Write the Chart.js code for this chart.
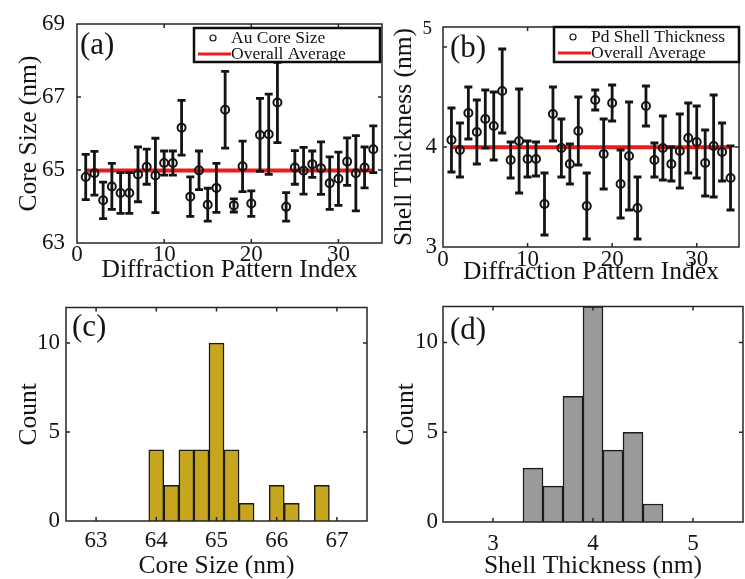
<!DOCTYPE html>
<html>
<head>
<meta charset="utf-8">
<title>Core size and shell thickness</title>
<script src="https://cdn.jsdelivr.net/npm/chart.js@4.4.1/dist/chart.umd.min.js"></script>
<style>
body { margin: 0; background: #fff; }
#fig { position: relative; width: 745px; height: 579px; overflow: hidden; }
#fig canvas { position: absolute; }
</style>
</head>
<body>
<div id="fig">
  <canvas id="cA" width="390" height="290" style="left:0;top:0"></canvas>
  <canvas id="cB" width="373" height="290" style="left:372px;top:0"></canvas>
  <canvas id="cC" width="372" height="289" style="left:0;top:290px"></canvas>
  <canvas id="cD" width="373" height="289" style="left:372px;top:290px"></canvas>
</div>
<script>
// per diffraction pattern fits
var idx = [1,2,3,4,5,6,7,8,9,10,11,12,13,14,15,16,17,18,19,20,21,22,23,24,25,26,27,28,29,30,31,32,33,34];
var coreSize = [64.81,64.91,64.17,64.55,64.37,64.37,64.88,65.09,64.85,65.19,65.19,66.16,64.27,64.99,64.05,64.51,66.65,
                64.03,65.10,64.08,65.96,65.98,66.85,63.99,65.07,64.98,65.16,65.05,64.64,64.76,65.23,64.91,65.07,65.57];
var coreErr  = [0.62,0.60,0.50,0.63,0.56,0.56,0.75,0.48,1.02,0.33,0.33,0.75,0.54,0.53,0.45,0.67,1.05,
                0.18,0.69,0.35,1.00,1.10,1.10,0.39,0.46,0.64,0.36,0.72,0.72,0.73,0.65,1.03,0.56,0.64];
var shellThk = [4.07,3.97,4.34,4.15,4.28,4.21,4.56,3.87,4.06,3.88,3.88,3.43,4.33,3.99,3.83,4.16,3.41,
                4.47,3.93,4.44,3.63,3.91,3.39,4.41,3.87,3.99,3.83,3.96,4.09,4.05,3.84,4.01,3.95,3.69];
var shellErr = [0.32,0.27,0.26,0.32,0.29,0.34,0.42,0.18,0.52,0.18,0.17,0.31,0.27,0.29,0.20,0.34,0.33,
                0.10,0.35,0.18,0.34,0.54,0.31,0.20,0.17,0.32,0.17,0.37,0.35,0.36,0.33,0.51,0.29,0.32];

// histograms (bin centres and counts)
var coreBins   = [64.0,64.25,64.5,64.75,65.0,65.25,65.5,65.75,66.0,66.25,66.5,66.75];
var coreCount  = [4,2,4,4,10,4,1,0,2,1,0,2];
var shellBins  = [3.4,3.6,3.8,4.0,4.2,4.4,4.6];
var shellCount = [3,2,7,12,4,5,1];

// axis ticks
var idxTicks      = [0,10,20,30];
var coreTicks     = [63,65,67,69];
var shellTicks    = [3,4,5];
var countTicks    = [0,5,10];
var coreBinTicks  = [63,64,65,66,67];
var shellBinTicks = [3,4,5];

var SERIF = "'Liberation Serif', 'Times New Roman', serif";
var INK = '#141414';
Chart.defaults.font.family = SERIF;
Chart.defaults.color = INK;
Chart.defaults.animation = false;

function mean(a) {
	var s = 0;
	for (var i = 0; i < a.length; i++) s += a[i];
	return s / a.length;
}
function pts(xs, ys) {
	return xs.map(function (x, i) { return {x: x, y: ys[i]}; });
}
function setTicks(list) {
	return function (scale) { scale.ticks = list.map(function (v) { return {value: v}; }); };
}

// box with inward ticks on all four sides
var framePlugin = {
	id: 'frame',
	afterDraw: function (chart) {
		var ctx = chart.ctx, a = chart.chartArea, xs = chart.scales.x, ys = chart.scales.y;
		ctx.save();
		ctx.strokeStyle = '#262626';
		ctx.lineWidth = 1.5;
		ctx.strokeRect(a.left, a.top, a.right - a.left, a.bottom - a.top);
		ctx.beginPath();
		xs.ticks.forEach(function (t) {
			var p = xs.getPixelForValue(t.value);
			if (p <= a.left + 1 || p >= a.right - 1) return;
			ctx.moveTo(p, a.bottom); ctx.lineTo(p, a.bottom - 4);
			ctx.moveTo(p, a.top); ctx.lineTo(p, a.top + 4);
		});
		ys.ticks.forEach(function (t) {
			var p = ys.getPixelForValue(t.value);
			if (p <= a.top + 1 || p >= a.bottom - 1) return;
			ctx.moveTo(a.left, p); ctx.lineTo(a.left + 4, p);
			ctx.moveTo(a.right, p); ctx.lineTo(a.right - 4, p);
		});
		ctx.stroke();
		ctx.restore();
	}
};

// vertical error bars under the markers of dataset 0
var errPlugin = {
	id: 'errBars',
	beforeDatasetDraw: function (chart, args) {
		if (args.index !== 0) return;
		var ds = chart.data.datasets[0];
		if (!ds.err) return;
		var ctx = chart.ctx, xs = chart.scales.x, ys = chart.scales.y;
		ctx.save();
		ctx.strokeStyle = INK;
		ctx.lineWidth = 2.8;
		ds.data.forEach(function (p, i) {
			var x = xs.getPixelForValue(p.x);
			var lo = ys.getPixelForValue(p.y - ds.err[i]);
			var hi = ys.getPixelForValue(p.y + ds.err[i]);
			ctx.beginPath();
			ctx.moveTo(x, lo); ctx.lineTo(x, hi);
			ctx.moveTo(x - 4, lo); ctx.lineTo(x + 4, lo);
			ctx.moveTo(x - 4, hi); ctx.lineTo(x + 4, hi);
			ctx.stroke();
		});
		ctx.restore();
	}
};

// panel letter, legend box and the lifted top tick label
var notePlugin = {
	id: 'notes',
	afterDraw: function (chart, args, o) {
		var ctx = chart.ctx, a = chart.chartArea;
		ctx.save();
		ctx.fillStyle = INK;
		ctx.textBaseline = 'middle';
		if (o.tag) {
			ctx.font = '31px ' + SERIF;
			ctx.textAlign = 'left';
			ctx.fillText(o.tag, a.left + o.tagDx, a.top + o.tagDy);
		}
		if (o.topTick) {
			var ys = chart.scales.y;
			ctx.font = '19px ' + SERIF;
			ctx.textAlign = 'right';
			ctx.fillText(String(ys.ticks[ys.ticks.length - 1].value), a.left - 11, a.top + 2);
		}
		if (o.legW) {
			var x0 = a.right - o.legRight - o.legW, y0 = a.top + o.legTop;
			ctx.fillStyle = '#fff';
			ctx.fillRect(x0, y0, o.legW, o.legH);
			ctx.strokeStyle = '#0c0c0c';
			ctx.lineWidth = 2.5;
			ctx.strokeRect(x0, y0, o.legW, o.legH);
			ctx.font = '17.5px ' + SERIF;
			ctx.textAlign = 'left';
			chart.data.datasets.forEach(function (ds, i) {
				var y = y0 + 10 + i * 16;
				ctx.beginPath();
				if (ds.showLine) {
					ctx.strokeStyle = ds.borderColor;
					ctx.lineWidth = 3;
					ctx.moveTo(x0 + 4, y); ctx.lineTo(x0 + 37, y);
				} else {
					ctx.strokeStyle = INK;
					ctx.lineWidth = 1.2;
					ctx.arc(x0 + 19, y, 3, 0, Math.PI * 2);
				}
				ctx.stroke();
				ctx.fillStyle = INK;
				ctx.fillText(ds.label, x0 + 37, y);
			});
		}
		ctx.restore();
	}
};

function axis(g, cfg) {
	var horiz = cfg.horiz;
	return {
		type: 'linear',
		min: cfg.min,
		max: cfg.max,
		offset: false,
		afterBuildTicks: setTicks(cfg.ticks),
		afterFit: function (s) { if (horiz) s.height = g.xH; else s.width = g.yW; },
		grid: {display: false, drawTicks: false, tickLength: 0},
		border: {display: false},
		ticks: {
			font: {size: 23, lineHeight: 1},
			padding: horiz ? g.xTickPad : g.yTickPad,
			maxRotation: 0,
			autoSkip: false,
			callback: cfg.callback || function (v) { return v; }
		},
		title: {
			display: true,
			text: cfg.title,
			font: {size: 25.5, lineHeight: 1},
			padding: horiz ? {top: 0, bottom: g.xTitlePad} : {top: g.yTitlePad, bottom: 0}
		}
	};
}

function baseOptions(g, notes) {
	return {
		responsive: false,
		maintainAspectRatio: false,
		layout: {padding: {left: 0, top: g.top, right: g.right, bottom: 0}},
		plugins: {legend: {display: false}, tooltip: {enabled: false}, notes: notes}
	};
}

// (a) core size per pattern
var gA = {top: 24, right: 8, yW: 77, xH: 47, yTickPad: 12, yTitlePad: 17, xTickPad: 0, xTitlePad: 7};
var optA = baseOptions(gA, {tag: '(a)', tagDx: 3, tagDy: 22, legW: 186, legH: 34, legRight: 2, legTop: 4});
optA.scales = {
	x: axis(gA, {horiz: true, min: 0, max: 35, ticks: idxTicks, title: 'Diffraction Pattern Index'}),
	y: axis(gA, {min: 63, max: 69, ticks: coreTicks, title: 'Core Size (nm)'})
};
var avgCore = mean(coreSize);
new Chart(document.getElementById('cA'), {
	type: 'scatter',
	data: {datasets: [
		{label: 'Au Core Size', data: pts(idx, coreSize), err: coreErr, showLine: false,
		 pointRadius: 4, pointBorderWidth: 2, pointBorderColor: INK, pointBackgroundColor: 'rgba(0,0,0,0)'},
		{label: 'Overall Average', data: [{x: idx[0], y: avgCore}, {x: idx[idx.length - 1], y: avgCore}],
		 showLine: true, borderColor: '#ee1b1b', borderWidth: 4, pointRadius: 0}
	]},
	options: optA,
	plugins: [errPlugin, framePlugin, notePlugin]
});

// (b) shell thickness per pattern
var gB = {top: 27, right: 3, yW: 71, xH: 43, yTickPad: 6, yTitlePad: 20, xTickPad: 1, xTitlePad: 5};
var optB = baseOptions(gB, {tag: '(b)', tagDx: 7, tagDy: 22, topTick: true, legW: 185, legH: 35, legRight: 0, legTop: 0});
optB.scales = {
	x: axis(gB, {horiz: true, min: 0, max: 35, ticks: idxTicks, title: 'Diffraction Pattern Index'}),
	y: axis(gB, {min: 3, max: 5.2, ticks: shellTicks, title: 'Shell Thickness (nm)',
		callback: function (v) { return v === shellTicks[shellTicks.length - 1] ? '' : v; }})
};
var avgShell = mean(shellThk);
new Chart(document.getElementById('cB'), {
	type: 'scatter',
	data: {datasets: [
		{label: 'Pd Shell Thickness', data: pts(idx, shellThk), err: shellErr, showLine: false,
		 pointRadius: 4, pointBorderWidth: 2, pointBorderColor: INK, pointBackgroundColor: 'rgba(0,0,0,0)'},
		{label: 'Overall Average', data: [{x: idx[0], y: avgShell}, {x: idx[idx.length - 1], y: avgShell}],
		 showLine: true, borderColor: '#ee1b1b', borderWidth: 4, pointRadius: 0}
	]},
	options: optB,
	plugins: [errPlugin, framePlugin, notePlugin]
});

// (c) core size histogram
var gC = {top: 13, right: 5, yW: 66, xH: 58, yTickPad: 6, yTitlePad: 17, xTickPad: 8, xTitlePad: 0};
var optC = baseOptions(gC, {tag: '(c)', tagDx: 6, tagDy: 20});
optC.scales = {
	x: axis(gC, {horiz: true, min: 62.5, max: 67.5, ticks: coreBinTicks, title: 'Core Size (nm)'}),
	y: axis(gC, {min: 0, max: 12, ticks: countTicks, title: 'Count'})
};
new Chart(document.getElementById('cC'), {
	type: 'bar',
	data: {datasets: [{data: pts(coreBins, coreCount), backgroundColor: '#c6a61e', borderColor: '#1c1c1c',
		borderWidth: 1.5, barPercentage: 1, categoryPercentage: 1}]},
	options: optC,
	plugins: [framePlugin, notePlugin]
});

// (d) shell thickness histogram
var gD = {top: 13, right: 2, yW: 71, xH: 57, yTickPad: 5, yTitlePad: 22, xTickPad: 10, xTitlePad: 0};
var optD = baseOptions(gD, {tag: '(d)', tagDx: 7, tagDy: 24});
optD.scales = {
	x: axis(gD, {horiz: true, min: 2.5, max: 5.5, ticks: shellBinTicks, title: 'Shell Thickness (nm)'}),
	y: axis(gD, {min: 0, max: 12, ticks: countTicks, title: 'Count'})
};
new Chart(document.getElementById('cD'), {
	type: 'bar',
	data: {datasets: [{data: pts(shellBins, shellCount), backgroundColor: '#9a9a9a', borderColor: '#1c1c1c',
		borderWidth: 1.5, barPercentage: 1, categoryPercentage: 1}]},
	options: optD,
	plugins: [framePlugin, notePlugin]
});
</script>
</body>
</html>
